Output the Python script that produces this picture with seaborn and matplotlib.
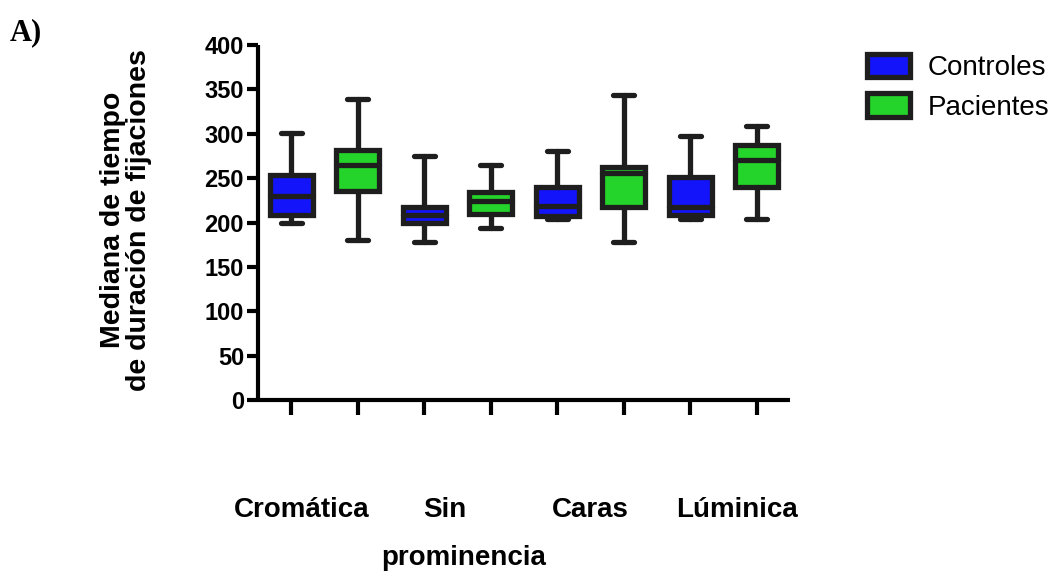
import matplotlib
matplotlib.use("Agg")
import matplotlib.pyplot as plt
import matplotlib.transforms as mtransforms
import seaborn as sns
import pandas as pd

# ---- data ----
box_ids = ["Cromática C", "Cromática P", "Sin prominencia C", "Sin prominencia P",
           "Caras C", "Caras P", "Lúminica C", "Lúminica P"]
groups = ["Controles", "Pacientes", "Controles", "Pacientes",
          "Controles", "Pacientes", "Controles", "Pacientes"]
whisker_low = [200, 180, 178, 194, 204, 178, 204, 204]
q1 = [208, 236, 200, 210, 207, 218, 209, 240]
median = [230, 265, 208, 224, 219, 256, 218, 270]
q3 = [254, 282, 218, 234, 240, 263, 251, 287]
whisker_high = [301, 339, 275, 265, 280, 344, 297, 309]

category_labels = ["Cromática", "Sin", "prominencia", "Caras", "Lúminica"]
category_label_pos = [0.15, 2.31, 2.60, 4.50, 6.70]
category_label_row = [0, 0, 1, 0, 0]

y_ticks = [0, 50, 100, 150, 200, 250, 300, 350, 400]
y_label = "Mediana de tiempo\nde duración de fijaciones"
panel_label = "A)"

palette = {"Controles": "#1414FA", "Pacientes": "#24D42A"}
dark = "#1E1E1E"

# long-form table: five values per box reproduce its whiskers / quartiles / median
rows = []
for bid, grp, lo, a, m, b, hi in zip(box_ids, groups, whisker_low, q1, median, q3, whisker_high):
    for v in (lo, a, m, b, hi):
        rows.append({"box": bid, "Grupo": grp, "valor": v})
df = pd.DataFrame(rows)

sns.set_style("ticks")
plt.rcParams["font.family"] = ["Liberation Sans", "DejaVu Sans"]
plt.rcParams["text.color"] = "black"
plt.rcParams["axes.labelcolor"] = "black"
plt.rcParams["xtick.color"] = "black"
plt.rcParams["ytick.color"] = "black"

fig = plt.figure(figsize=(10.6, 5.73), dpi=100)
ax = fig.add_axes([258 / 1060, 1 - 400 / 573, 532 / 1060, 355 / 573])

sns.boxplot(data=df, x="box", y="valor", hue="Grupo", order=box_ids,
            hue_order=["Controles", "Pacientes"], palette=palette,
            dodge=False, width=0.64, whis=(0, 100), linewidth=3.8,
            linecolor=dark, saturation=1, ax=ax)

for line in ax.lines:
    line.set_solid_capstyle("round")
    line.set_color(dark)

ax.set_ylim(0, 400)
ax.set_xlim(-0.5, 7.5)
ax.set_yticks(y_ticks)
ax.set_yticklabels([str(t) for t in y_ticks], fontsize=17, fontweight="bold", color="black")
ax.set_xticklabels([])
ax.set_xlabel("")
ax.set_ylabel("")
ax.tick_params(axis="y", direction="out", length=8, width=3, pad=2, color="black")
ax.tick_params(axis="x", direction="out", length=11, width=3, color="black")
sns.despine(ax=ax)
for s in ("left", "bottom"):
    ax.spines[s].set_linewidth(3)
    ax.spines[s].set_color("black")
    ax.spines[s].set_capstyle("butt")

# category labels beneath the axis
trans = mtransforms.blended_transform_factory(ax.transData, fig.transFigure)
row_y = [1 - 517 / 573, 1 - 565 / 573]
for lab, xp, r in zip(category_labels, category_label_pos, category_label_row):
    ax.text(xp, row_y[r], lab, transform=trans, ha="center", va="baseline",
            fontsize=20, fontweight="bold", color="black", clip_on=False)

fig.text(126 / 1060, 1 - 220 / 573, y_label, rotation=90, ha="center", va="center",
         multialignment="center", fontsize=20.5, fontweight="bold", linespacing=1.05,
         color="black")

fig.text(10 / 1060, 1 - 18 / 573, panel_label, ha="left", va="top", fontsize=22,
         fontweight="bold", family="Liberation Serif", color="black")

sns.move_legend(ax, "upper left", bbox_to_anchor=((867 - 258) / 532, 0.975),
                frameon=False, title=None, fontsize=20, borderpad=0,
                borderaxespad=0, handlelength=1.55, handleheight=0.9,
                handletextpad=0.65, labelspacing=0.45)
for t in ax.get_legend().get_texts():
    t.set_color("black")

fig.savefig("out.png", dpi=100)
